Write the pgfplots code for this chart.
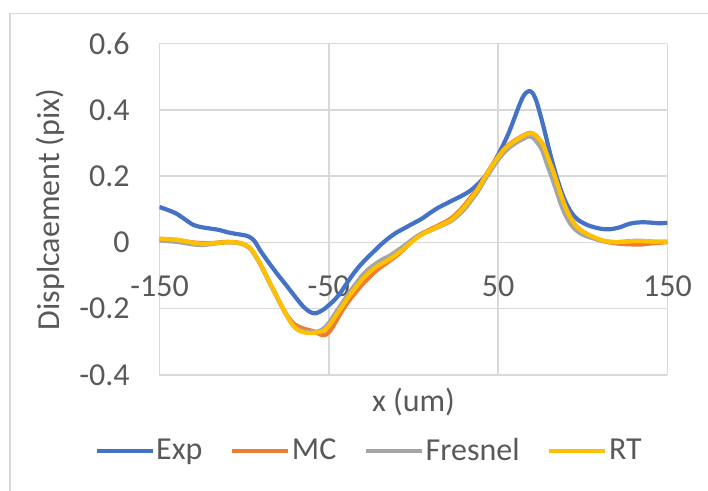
\documentclass[border=0pt]{standalone}
\usepackage{pgfplots}
\pgfplotsset{compat=1.18}
\usetikzlibrary{calc}
\usepackage{fontspec}
\setmainfont{Carlito}
\definecolor{cExp}{HTML}{4472C4}
\definecolor{cMC}{HTML}{ED7D31}
\definecolor{cFr}{HTML}{A5A5A5}
\definecolor{cRT}{HTML}{FFC000}
\definecolor{txt}{HTML}{595959}
\definecolor{grd}{HTML}{D9D9D9}
\begin{document}
\begin{tikzpicture}
\draw[grd, line width=0.75pt] (-74.75pt,-80pt) rectangle (300pt,180.85pt);
\begin{axis}[
  scale only axis,
  width=254pt, height=165.65pt,
  at={(0,0)}, anchor=south west,
  xmin=-150, xmax=150, ymin=-0.4, ymax=0.6,
  xtick={-150,-50,50,150},
  xticklabels={-150,-50,50,150},
  ytick={-0.4,-0.2,0,0.2,0.4,0.6},
  yticklabels={-0.4,-0.2,0,0.2,0.4,0.6},
  grid=major,
  major grid style={grd, line width=0.75pt},
  axis line style={draw=none},
  major tick length=0pt,
  tick style={draw=none},
  font=\fontsize{16}{19}\selectfont,
  every tick label/.append style={text=txt, font=\fontsize{16}{19}\selectfont},
  yticklabel style={anchor=east, inner sep=0pt, xshift=-14.75pt},
  xticklabel style={anchor=north, inner sep=0pt, yshift=66.4pt-16.35pt},
  xlabel={x (um)},
  ylabel={Displcaement (pix)},
  every axis x label/.style={at={(axis description cs:0.5,0)}, anchor=center, yshift=-13.75pt, text=txt, inner sep=0pt},
  every axis y label/.style={at={(axis description cs:0,0.5)}, anchor=center, xshift=-54.35pt, rotate=90, text=txt, inner sep=0pt},
  legend style={at={(axis description cs:0.413,-0.229)}, anchor=center, draw=none, fill=none,
     legend columns=4, text=txt, font=\fontsize{16}{19}\selectfont,
     /tikz/every even column/.append style={column sep=13pt},
     nodes={inner sep=1pt}},
  legend image code/.code={\draw[#1, line width=1.7pt] (0pt,0pt) -- (28pt,0pt);},
  every axis plot/.append style={line width=2.1pt, smooth, tension=0.5},
]
\addplot[cExp] coordinates {
(-150,0.107)(-145,0.098)(-140,0.087)(-135,0.070)(-130,0.053)(-125,0.046)(-120,0.042)(-115,0.038)(-110,0.031)(-105,0.026)(-100,0.022)(-97,0.017)(-94,0.005)(-90,-0.028)(-85,-0.064)(-80,-0.098)(-75,-0.130)(-70,-0.163)(-65,-0.194)(-61,-0.210)(-58,-0.214)(-55,-0.208)(-52,-0.198)(-48,-0.180)(-44,-0.158)(-40,-0.128)(-36,-0.098)(-32,-0.072)(-28,-0.050)(-24,-0.030)(-20,-0.010)(-15,0.012)(-10,0.030)(-5,0.044)(0,0.058)(5,0.072)(10,0.090)(15,0.106)(20,0.119)(25,0.132)(30,0.145)(34,0.158)(38,0.176)(42,0.198)(46,0.228)(50,0.265)(53,0.295)(56,0.328)(59,0.367)(62,0.408)(64.5,0.438)(66.5,0.452)(68.5,0.457)(70.5,0.450)(73,0.420)(77,0.345)(81,0.262)(85,0.190)(89,0.132)(93,0.092)(97,0.069)(103,0.052)(110,0.042)(116,0.040)(122,0.046)(126,0.054)(130,0.059)(135,0.061)(140,0.060)(145,0.058)(150,0.059)
};
\addlegendentry{Exp}
\addplot[cMC] coordinates {
(-150,0.010)(-140,0.008)(-130,0.000)(-120,-0.002)(-110,0.002)(-102,-0.002)(-97,-0.015)(-94,-0.035)(-90,-0.07)(-86,-0.11)(-82,-0.15)(-78,-0.19)(-74,-0.225)(-70,-0.248)(-66,-0.258)(-62,-0.264)(-58,-0.27)(-55,-0.278)(-52,-0.279)(-49,-0.265)(-46,-0.240)(-42,-0.205)(-38,-0.175)(-34,-0.150)(-30,-0.125)(-26,-0.105)(-22,-0.085)(-18,-0.070)(-14,-0.055)(-10,-0.040)(-6,-0.022)(-2,-0.002)(2,0.018)(6,0.030)(10,0.040)(14,0.050)(18,0.060)(22,0.072)(26,0.090)(30,0.112)(34,0.138)(38,0.163)(42,0.197)(46,0.230)(50,0.260)(54,0.285)(58,0.302)(62,0.315)(66,0.326)(69,0.331)(72,0.324)(75,0.306)(77,0.290)(80,0.248)(83,0.208)(85,0.176)(88,0.130)(91,0.092)(94,0.064)(97,0.045)(100,0.033)(104,0.020)(108,0.010)(112,0.004)(116,0.000)(120,-0.003)(125,-0.005)(130,-0.006)(135,-0.006)(140,-0.003)(145,-0.001)(150,0.001)
};
\addlegendentry{MC}
\addplot[cFr] coordinates {
(-150,0.006)(-145,0.004)(-140,0.002)(-135,-0.002)(-130,-0.006)(-125,-0.008)(-120,-0.005)(-115,-0.002)(-110,0.000)(-105,-0.001)(-101,-0.005)(-97,-0.016)(-94,-0.035)(-90,-0.07)(-86,-0.112)(-82,-0.152)(-78,-0.192)(-74,-0.228)(-71,-0.250)(-68,-0.262)(-65,-0.268)(-62,-0.270)(-58,-0.270)(-55,-0.266)(-52,-0.255)(-49,-0.236)(-46,-0.212)(-42,-0.182)(-38,-0.152)(-34,-0.124)(-30,-0.098)(-26,-0.078)(-22,-0.063)(-18,-0.050)(-14,-0.040)(-10,-0.026)(-6,-0.012)(-2,0.004)(2,0.018)(6,0.028)(10,0.036)(14,0.045)(18,0.054)(22,0.064)(26,0.080)(30,0.100)(34,0.126)(38,0.154)(42,0.188)(46,0.220)(50,0.250)(54,0.274)(58,0.292)(62,0.305)(66,0.316)(68.5,0.320)(71,0.314)(74,0.295)(76,0.278)(79,0.234)(82,0.192)(84,0.162)(87,0.116)(90,0.080)(93,0.054)(96,0.037)(99,0.026)(103,0.017)(108,0.010)(112,0.005)(116,0.002)(120,0.001)(125,0.003)(130,0.005)(135,0.005)(140,0.003)(145,0.002)(150,0.002)
};
\addlegendentry{Fresnel}
\addplot[cRT] coordinates {
(-150,0.012)(-145,0.010)(-140,0.008)(-135,0.004)(-130,-0.001)(-125,-0.004)(-120,-0.003)(-115,-0.001)(-110,0.001)(-105,0.000)(-101,-0.004)(-97,-0.014)(-94,-0.033)(-90,-0.068)(-86,-0.110)(-82,-0.150)(-78,-0.190)(-74,-0.228)(-71,-0.252)(-68,-0.265)(-65,-0.271)(-62,-0.273)(-58,-0.272)(-55,-0.270)(-52,-0.262)(-49,-0.245)(-46,-0.222)(-42,-0.192)(-38,-0.162)(-34,-0.135)(-30,-0.110)(-26,-0.090)(-22,-0.073)(-18,-0.062)(-14,-0.050)(-10,-0.036)(-6,-0.020)(-2,-0.003)(2,0.014)(6,0.027)(10,0.037)(14,0.047)(18,0.056)(22,0.067)(26,0.085)(30,0.107)(34,0.133)(38,0.160)(42,0.195)(46,0.228)(50,0.258)(54,0.283)(58,0.300)(62,0.313)(66,0.325)(69.5,0.330)(72,0.324)(75,0.306)(77,0.290)(80,0.248)(83,0.208)(85,0.176)(88,0.130)(91,0.092)(94,0.064)(97,0.045)(100,0.033)(104,0.022)(108,0.013)(112,0.006)(116,0.002)(120,0.001)(125,0.002)(130,0.004)(135,0.004)(140,0.003)(145,0.002)(150,0.002)
};
\addlegendentry{RT}
\end{axis}
\pgfresetboundingbox
\path[use as bounding box] (-79.75pt,-58pt) rectangle (274.25pt,187.5pt);
\end{tikzpicture}
\end{document}
